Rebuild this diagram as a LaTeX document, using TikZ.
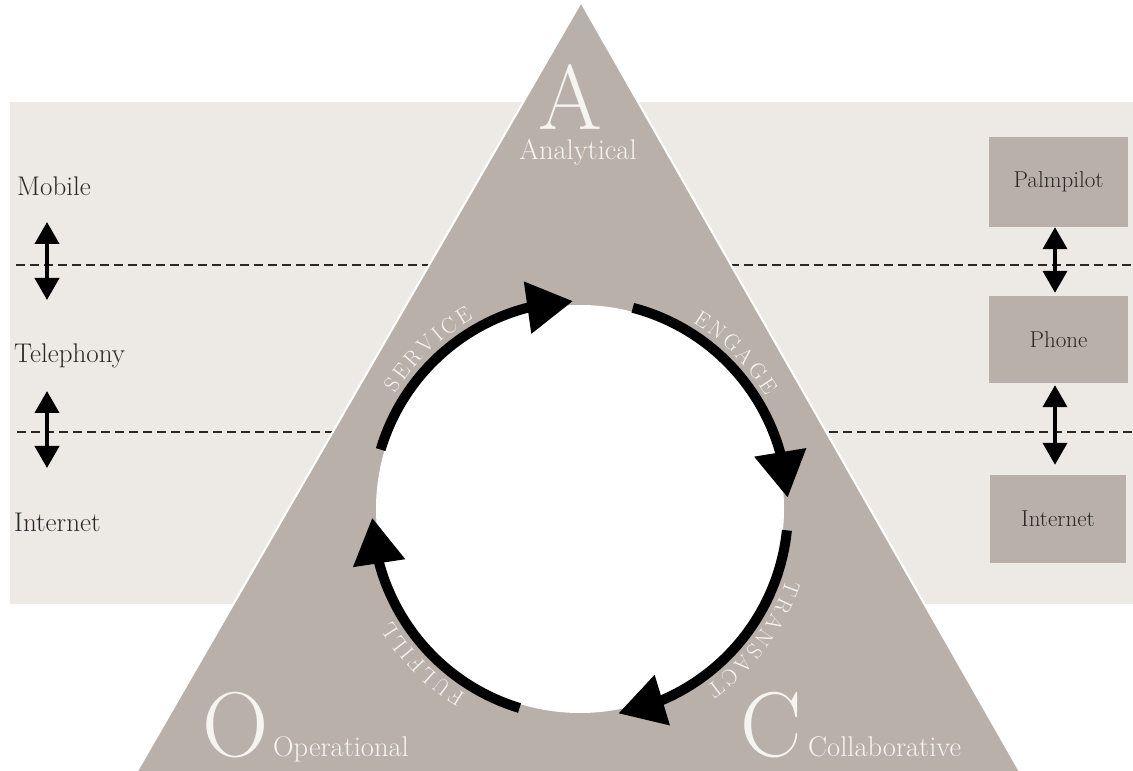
\documentclass[tikz,border=0pt]{standalone}
\usepackage{fontspec}
\usetikzlibrary{arrows.meta,bending,decorations.text}
\definecolor{bandc}{RGB}{237,234,230}
\definecolor{tri}{RGB}{185,176,169}
\definecolor{ink}{RGB}{40,40,40}
\definecolor{chalk}{RGB}{246,244,241}
\begin{document}
\begin{tikzpicture}[x=1pt,y=1pt,
  lbl/.style={inner sep=0pt, text=ink, font=\fontsize{27}{27}\selectfont},
  boxlbl/.style={fill=tri, inner sep=0pt, text=ink, font=\fontsize{23}{23}\selectfont},
  big/.style={inner sep=0pt, text depth=0pt, text=chalk, font=\fontsize{92}{92}\selectfont},
  sublbl/.style={inner sep=0pt, text depth=0pt, text=chalk, font=\fontsize{28.5}{28.5}\selectfont},
  dashline/.style={line width=2.5pt, dash pattern=on 9pt off 5pt, draw=ink},
  dbl/.style={line width=4pt, draw=black, {Triangle[length=22pt,width=24pt]}-{Triangle[length=22pt,width=24pt]}},
  cyc/.style={line width=10pt, draw=black, -{Triangle[length=46pt,width=50pt,flex]}},
  ]
\useasboundingbox (0,0) rectangle (1133,771);
\clip (0,0) rectangle (1133,771);
% background band
\fill[bandc] (10,167) rectangle (1133,669);
% dashed separators
\coordinate (d1w) at (16,506);
\coordinate (d1e) at (1133,506);
\coordinate (d2w) at (17,339);
\coordinate (d2e) at (1133,339);
\draw[dashline] (d1w) -- (d1e);
\draw[dashline] (d2w) -- (d2e);
% triangle
\filldraw[fill=tri, draw=white, line width=2pt] (581,769) -- (1031,-20) -- (125.5,-20) -- cycle;
% circle
\coordinate (C) at (580,262);
\fill[white] (C) circle[radius=204];
% cycle arcs
\draw[cyc] ([shift={(163.4:208)}]C) arc[start angle=163.4, end angle=91.9, radius=208];
\draw[cyc] ([shift={(75.3:208)}]C) arc[start angle=75.3, end angle=3.1, radius=208];
\draw[cyc] ([shift={(-5.9:208)}]C) arc[start angle=-5.9, end angle=-79.4, radius=208];
\draw[cyc] ([shift={(-106.9:208)}]C) arc[start angle=-106.9, end angle=-177.6, radius=208];
% curved labels
\path[decorate, decoration={text along path, text align=center,
  text={|\fontsize{22}{22}\selectfont\color{chalk}\kern3pt|SERVICE}}]
  ([shift={(159:218)}]C) arc[start angle=159, end angle=109, radius=218];
\path[decorate, decoration={text along path, text align=center,
  text={|\fontsize{22}{22}\selectfont\color{chalk}\kern3pt|ENGAGE}}]
  ([shift={(70.5:218)}]C) arc[start angle=70.5, end angle=20.5, radius=218];
\path[decorate, decoration={text along path, text align=center,
  text={|\fontsize{22}{22}\selectfont\color{chalk}\kern3pt|TRANSACT}}]
  ([shift={(-9:218)}]C) arc[start angle=-9, end angle=-64, radius=218];
\path[decorate, decoration={text along path, text align=center,
  text={|\fontsize{22}{22}\selectfont\color{chalk}\kern3pt|FULFILL}}]
  ([shift={(-110:218)}]C) arc[start angle=-110, end angle=-160, radius=218];
% corner letters
\node[big, anchor=base] (A) at (570,641) {A};
\node[sublbl, anchor=base] (An) at (578,611) {Analytical};
\node[big, anchor=base west] (O) at (202,14) {O};
\node[sublbl, anchor=base west] (Op) at (273,14) {Operational};
\node[big, anchor=base west] (Cl) at (740,14) {C};
\node[sublbl, anchor=base west] (Co) at (808,14) {Collaborative};
% left channel labels
\node[lbl, anchor=base west] (mob) at (17,575) {Mobile};
\node[lbl, anchor=base west] (tel) at (14,408) {Telephony};
\node[lbl, anchor=base west] (int) at (14,239) {Internet};
\coordinate (la1) at (47,549);
\coordinate (lb1) at (47,471);
\coordinate (la2) at (47,380);
\coordinate (lb2) at (47,303);
\draw[dbl] (la1) -- (lb1);
\draw[dbl] (la2) -- (lb2);
% right device boxes
\node[boxlbl, minimum width=139pt, minimum height=90pt] (pp) at (1058.5,589) {Palmpilot};
\node[boxlbl, minimum width=139pt, minimum height=87pt] (ph) at (1058.5,431.5) {Phone};
\node[boxlbl, minimum width=136pt, minimum height=88pt] (in) at (1058,252) {Internet};
\draw[dbl, shorten >=3pt] ([xshift=-3.5pt]pp.south) -- ([xshift=-3.5pt]ph.north);
\draw[dbl, shorten <=2pt, shorten >=10pt] ([xshift=-3.5pt]ph.south) -- ([xshift=-3pt]in.north);
\end{tikzpicture}
\end{document}
